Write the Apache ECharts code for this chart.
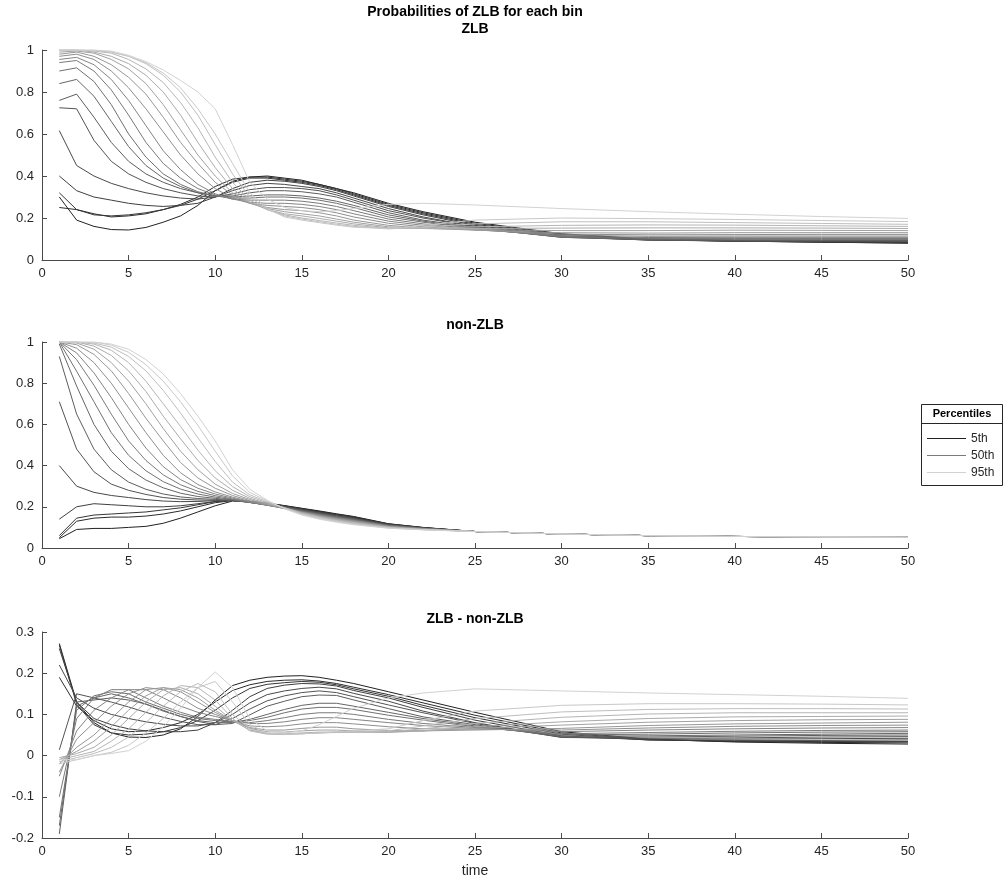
<!DOCTYPE html>
<html>
<head>
<meta charset="utf-8">
<script src="https://cdn.jsdelivr.net/npm/echarts@6/dist/echarts.min.js"></script>
<style>
  html, body { margin: 0; padding: 0; background: #fff; }
  #main { width: 1005px; height: 886px; }
</style>
</head>
<body>
<div id="main"></div>
<script>
"use strict";
// time points (denser where the curves bend)
const timePoints = [1,2,3,4,5,6,7,8,9,10,11,12,13,14,15,16,17,18,20,22,25,30,35,40,45,50];
const percentiles = ['5th','10th','15th','20th','25th','30th','35th','40th','45th','50th',
  '55th','60th','65th','70th','75th','80th','85th','90th','95th'];

// ZLB panel, one row per percentile bin
const zlbProb = [
  [0.30,0.19,0.16,0.145,0.143,0.155,0.18,0.21,0.26,0.33,0.375,0.395,0.40,0.39,0.38,0.36,0.34,0.32,0.27,0.23,0.18,0.125,0.10,0.09,0.085,0.08],
  [0.25,0.24,0.22,0.205,0.21,0.22,0.24,0.265,0.30,0.35,0.385,0.395,0.395,0.385,0.375,0.36,0.34,0.315,0.265,0.225,0.175,0.122,0.098,0.09,0.085,0.081],
  [0.32,0.24,0.215,0.21,0.215,0.225,0.24,0.26,0.29,0.33,0.37,0.39,0.39,0.38,0.37,0.355,0.335,0.31,0.26,0.22,0.17,0.118,0.097,0.09,0.086,0.083],
  [0.40,0.33,0.30,0.285,0.27,0.26,0.255,0.26,0.27,0.30,0.34,0.37,0.38,0.375,0.365,0.35,0.33,0.305,0.255,0.215,0.165,0.115,0.096,0.09,0.087,0.085],
  [0.616,0.45,0.40,0.365,0.34,0.32,0.305,0.295,0.29,0.30,0.33,0.355,0.365,0.36,0.35,0.34,0.32,0.295,0.245,0.205,0.16,0.112,0.095,0.09,0.088,0.087],
  [0.725,0.72,0.57,0.47,0.41,0.37,0.34,0.32,0.305,0.30,0.315,0.335,0.345,0.345,0.34,0.33,0.31,0.285,0.235,0.2,0.158,0.11,0.095,0.091,0.09,0.09],
  [0.76,0.79,0.68,0.56,0.47,0.41,0.37,0.34,0.32,0.305,0.305,0.32,0.33,0.33,0.325,0.315,0.30,0.275,0.225,0.19,0.155,0.108,0.096,0.093,0.093,0.093],
  [0.84,0.86,0.78,0.66,0.54,0.45,0.39,0.35,0.32,0.305,0.30,0.305,0.31,0.31,0.305,0.295,0.28,0.26,0.215,0.185,0.152,0.108,0.098,0.097,0.097,0.097],
  [0.90,0.915,0.85,0.74,0.60,0.49,0.41,0.36,0.325,0.305,0.295,0.295,0.30,0.30,0.295,0.285,0.27,0.25,0.205,0.18,0.15,0.11,0.102,0.102,0.102,0.102],
  [0.94,0.95,0.90,0.81,0.69,0.56,0.46,0.39,0.34,0.31,0.29,0.285,0.285,0.285,0.28,0.27,0.255,0.235,0.195,0.172,0.148,0.112,0.107,0.108,0.108,0.108],
  [0.955,0.965,0.93,0.86,0.76,0.64,0.52,0.43,0.36,0.315,0.29,0.275,0.27,0.27,0.265,0.255,0.24,0.22,0.185,0.165,0.145,0.117,0.113,0.114,0.114,0.114],
  [0.97,0.98,0.955,0.90,0.82,0.72,0.61,0.50,0.41,0.34,0.295,0.27,0.26,0.255,0.25,0.24,0.225,0.205,0.175,0.158,0.143,0.123,0.12,0.121,0.122,0.122],
  [0.98,0.99,0.97,0.93,0.87,0.79,0.68,0.56,0.46,0.37,0.31,0.27,0.25,0.24,0.235,0.225,0.21,0.19,0.165,0.152,0.142,0.13,0.128,0.13,0.13,0.13],
  [0.99,0.995,0.985,0.955,0.91,0.84,0.74,0.62,0.50,0.40,0.32,0.27,0.245,0.23,0.22,0.21,0.195,0.18,0.158,0.15,0.145,0.14,0.14,0.142,0.141,0.14],
  [1,1,0.99,0.97,0.935,0.88,0.80,0.69,0.56,0.44,0.34,0.275,0.24,0.22,0.21,0.198,0.185,0.172,0.153,0.15,0.15,0.152,0.153,0.153,0.152,0.15],
  [1,1,0.995,0.985,0.955,0.91,0.845,0.75,0.63,0.49,0.37,0.285,0.24,0.215,0.2,0.188,0.176,0.165,0.15,0.152,0.158,0.165,0.167,0.166,0.163,0.16],
  [1,1,1,0.99,0.97,0.935,0.88,0.80,0.69,0.55,0.41,0.30,0.24,0.21,0.195,0.182,0.17,0.16,0.148,0.157,0.172,0.182,0.182,0.178,0.174,0.17],
  [1,1,0.998,0.99,0.97,0.94,0.89,0.82,0.72,0.60,0.46,0.32,0.245,0.205,0.19,0.178,0.166,0.156,0.15,0.165,0.19,0.2,0.197,0.193,0.188,0.183],
  [1,1,1,0.995,0.975,0.945,0.905,0.855,0.80,0.72,0.55,0.37,0.29,0.25,0.235,0.23,0.235,0.245,0.265,0.27,0.262,0.245,0.23,0.218,0.207,0.198]
];

// non-ZLB panel
const nonZlbProb = [
  [0.045,0.09,0.095,0.095,0.10,0.105,0.12,0.145,0.175,0.205,0.228,0.226,0.218,0.206,0.193,0.18,0.166,0.153,0.118,0.1,0.08,0.068,0.06,0.056,0.054,0.052],
  [0.05,0.13,0.145,0.15,0.15,0.155,0.165,0.18,0.2,0.22,0.23,0.226,0.217,0.205,0.191,0.178,0.164,0.151,0.117,0.099,0.08,0.068,0.06,0.056,0.054,0.052],
  [0.06,0.145,0.16,0.165,0.17,0.175,0.185,0.195,0.21,0.225,0.232,0.226,0.216,0.204,0.19,0.176,0.162,0.149,0.116,0.099,0.08,0.068,0.06,0.056,0.054,0.052],
  [0.14,0.2,0.215,0.21,0.205,0.2,0.2,0.205,0.215,0.226,0.232,0.225,0.215,0.203,0.188,0.174,0.16,0.147,0.115,0.098,0.08,0.068,0.06,0.056,0.054,0.052],
  [0.40,0.30,0.27,0.255,0.245,0.235,0.228,0.225,0.226,0.23,0.231,0.224,0.214,0.202,0.186,0.171,0.157,0.144,0.113,0.097,0.08,0.068,0.06,0.056,0.054,0.052],
  [0.71,0.48,0.37,0.31,0.28,0.26,0.245,0.237,0.233,0.232,0.23,0.222,0.212,0.2,0.184,0.169,0.155,0.142,0.112,0.096,0.08,0.068,0.06,0.056,0.054,0.052],
  [0.93,0.65,0.48,0.38,0.32,0.285,0.262,0.248,0.24,0.236,0.231,0.221,0.21,0.198,0.182,0.167,0.153,0.14,0.111,0.096,0.08,0.068,0.06,0.056,0.054,0.052],
  [0.99,0.786,0.60,0.47,0.385,0.33,0.292,0.266,0.25,0.241,0.233,0.221,0.209,0.196,0.18,0.165,0.151,0.138,0.11,0.095,0.08,0.068,0.06,0.056,0.054,0.052],
  [1,0.858,0.71,0.56,0.45,0.375,0.322,0.286,0.262,0.247,0.235,0.221,0.208,0.194,0.178,0.163,0.149,0.136,0.109,0.095,0.08,0.068,0.06,0.056,0.054,0.052],
  [1,0.914,0.79,0.65,0.52,0.425,0.355,0.307,0.275,0.254,0.238,0.222,0.207,0.193,0.177,0.161,0.147,0.134,0.107,0.094,0.08,0.068,0.06,0.056,0.054,0.052],
  [1,0.947,0.85,0.73,0.60,0.485,0.395,0.332,0.29,0.262,0.242,0.224,0.208,0.192,0.175,0.159,0.145,0.133,0.106,0.093,0.08,0.068,0.06,0.056,0.054,0.052],
  [1,0.97,0.90,0.80,0.68,0.56,0.45,0.365,0.308,0.272,0.247,0.226,0.209,0.192,0.174,0.158,0.143,0.131,0.105,0.093,0.08,0.068,0.06,0.056,0.054,0.052],
  [1,0.987,0.94,0.86,0.75,0.63,0.52,0.415,0.34,0.29,0.255,0.23,0.211,0.193,0.173,0.156,0.141,0.129,0.104,0.092,0.08,0.068,0.06,0.056,0.054,0.052],
  [1,0.995,0.965,0.90,0.81,0.70,0.58,0.47,0.38,0.31,0.265,0.235,0.213,0.194,0.172,0.154,0.139,0.127,0.103,0.091,0.08,0.068,0.06,0.056,0.054,0.052],
  [1,1,0.98,0.935,0.86,0.76,0.64,0.53,0.425,0.34,0.28,0.241,0.216,0.195,0.17,0.152,0.137,0.124,0.101,0.091,0.08,0.068,0.06,0.056,0.054,0.052],
  [1,1,0.99,0.96,0.90,0.81,0.70,0.59,0.475,0.375,0.298,0.249,0.22,0.196,0.168,0.15,0.134,0.121,0.1,0.09,0.08,0.068,0.06,0.056,0.054,0.052],
  [1,1,0.995,0.975,0.93,0.86,0.765,0.655,0.535,0.42,0.32,0.258,0.224,0.195,0.166,0.147,0.131,0.118,0.099,0.089,0.08,0.068,0.06,0.056,0.054,0.052],
  [1,1,1,0.985,0.95,0.89,0.81,0.71,0.595,0.47,0.35,0.27,0.228,0.193,0.163,0.143,0.128,0.116,0.097,0.089,0.08,0.068,0.06,0.056,0.054,0.052],
  [1,1,1,0.99,0.965,0.915,0.845,0.75,0.64,0.52,0.38,0.285,0.232,0.19,0.16,0.14,0.125,0.113,0.096,0.088,0.08,0.068,0.06,0.056,0.054,0.052]
];

// ZLB - non-ZLB panel
const zlbDiff = [
  [0.272,0.13,0.08,0.055,0.045,0.044,0.05,0.065,0.095,0.135,0.17,0.183,0.19,0.193,0.194,0.19,0.183,0.175,0.155,0.135,0.105,0.058,0.04,0.033,0.03,0.028],
  [0.19,0.12,0.085,0.065,0.058,0.06,0.068,0.08,0.1,0.13,0.158,0.172,0.18,0.183,0.184,0.181,0.175,0.166,0.148,0.128,0.098,0.055,0.039,0.034,0.032,0.031],
  [0.268,0.125,0.075,0.055,0.05,0.052,0.058,0.068,0.085,0.11,0.14,0.163,0.173,0.177,0.18,0.178,0.172,0.162,0.144,0.122,0.092,0.052,0.038,0.035,0.034,0.034],
  [0.26,0.13,0.09,0.075,0.065,0.06,0.058,0.058,0.062,0.08,0.11,0.143,0.163,0.171,0.175,0.174,0.169,0.158,0.14,0.117,0.086,0.048,0.038,0.037,0.037,0.038],
  [0.22,0.14,0.115,0.1,0.09,0.082,0.076,0.072,0.072,0.08,0.1,0.128,0.148,0.157,0.163,0.166,0.162,0.151,0.132,0.108,0.08,0.045,0.04,0.04,0.041,0.042],
  [0.014,0.15,0.14,0.13,0.118,0.105,0.093,0.083,0.075,0.075,0.09,0.113,0.133,0.145,0.153,0.157,0.153,0.143,0.123,0.104,0.078,0.044,0.042,0.043,0.045,0.046],
  [-0.19,0.13,0.135,0.14,0.135,0.125,0.11,0.095,0.083,0.075,0.078,0.099,0.12,0.132,0.143,0.147,0.146,0.135,0.114,0.094,0.075,0.045,0.045,0.047,0.049,0.05],
  [-0.17,0.12,0.14,0.15,0.14,0.125,0.108,0.095,0.085,0.08,0.08,0.088,0.1,0.112,0.122,0.127,0.127,0.12,0.105,0.09,0.072,0.047,0.048,0.05,0.052,0.054],
  [-0.15,0.11,0.145,0.155,0.15,0.13,0.115,0.1,0.09,0.085,0.082,0.085,0.093,0.104,0.113,0.117,0.117,0.112,0.098,0.086,0.07,0.05,0.052,0.055,0.057,0.058],
  [-0.10,0.09,0.14,0.16,0.16,0.14,0.12,0.105,0.093,0.088,0.082,0.08,0.085,0.092,0.1,0.104,0.104,0.1,0.088,0.078,0.068,0.053,0.056,0.059,0.061,0.062],
  [-0.05,0.06,0.11,0.14,0.16,0.16,0.14,0.12,0.105,0.095,0.085,0.078,0.078,0.082,0.088,0.092,0.092,0.088,0.08,0.073,0.066,0.058,0.062,0.065,0.067,0.068],
  [-0.04,0.04,0.08,0.12,0.15,0.165,0.16,0.14,0.115,0.1,0.085,0.072,0.07,0.072,0.077,0.08,0.08,0.077,0.07,0.065,0.064,0.062,0.067,0.071,0.073,0.074],
  [-0.02,0.02,0.05,0.09,0.13,0.16,0.165,0.155,0.13,0.105,0.085,0.068,0.062,0.062,0.066,0.069,0.069,0.065,0.061,0.06,0.062,0.066,0.073,0.077,0.079,0.081],
  [-0.01,0.01,0.035,0.07,0.11,0.145,0.165,0.16,0.14,0.11,0.085,0.066,0.058,0.057,0.06,0.062,0.062,0.06,0.058,0.06,0.066,0.074,0.081,0.085,0.087,0.088],
  [-0.005,0.005,0.02,0.05,0.09,0.13,0.16,0.165,0.15,0.12,0.085,0.062,0.054,0.053,0.055,0.057,0.057,0.057,0.056,0.06,0.07,0.082,0.09,0.094,0.095,0.096],
  [-0.01,0,0.01,0.035,0.065,0.105,0.145,0.17,0.165,0.135,0.09,0.06,0.052,0.051,0.053,0.055,0.056,0.057,0.058,0.065,0.078,0.093,0.101,0.104,0.104,0.104],
  [-0.015,-0.005,0.005,0.02,0.045,0.08,0.12,0.155,0.175,0.155,0.1,0.065,0.054,0.052,0.053,0.055,0.057,0.058,0.06,0.072,0.09,0.106,0.112,0.114,0.114,0.113],
  [-0.02,-0.01,0,0.008,0.025,0.055,0.09,0.13,0.165,0.18,0.13,0.075,0.055,0.052,0.053,0.055,0.058,0.06,0.065,0.085,0.108,0.122,0.126,0.126,0.125,0.123],
  [-0.01,-0.01,0,0.005,0.012,0.035,0.07,0.115,0.165,0.203,0.165,0.09,0.06,0.055,0.06,0.075,0.095,0.115,0.14,0.152,0.162,0.157,0.152,0.148,0.144,0.139]
];

const panelTitles = ['non-ZLB', 'ZLB - non-ZLB'];
const legendShown = ['5th', '50th', '95th'];

const FONT = "'Liberation Sans', Arial, Helvetica, sans-serif";
const INK = '#262626';
const AXIS = '#4a4a4a';

let myChart = echarts.init(document.getElementById('main'), null, {renderer: 'canvas'});

function grayOf(k) {
    let g = Math.round(34 + k * (210 - 34) / 18);
    return 'rgb(' + g + ',' + g + ',' + g + ')';
}

const grids = [
    {left: 42, top: 50, width: 866, height: 210},
    {left: 42, top: 342, width: 866, height: 206},
    {left: 42, top: 632, width: 866, height: 206}
];
const yRanges = [[0, 1, 0.2], [0, 1, 0.2], [-0.2, 0.3, 0.1]];

function makeX(i) {
    return {
        type: 'value', gridIndex: i, min: 0, max: 50, interval: 5,
        name: i === 2 ? 'time' : '', nameLocation: 'middle', nameGap: 26,
        nameTextStyle: {fontFamily: FONT, fontSize: 14, color: INK},
        axisLine: {onZero: false, lineStyle: {color: AXIS, width: 1}},
        axisTick: {inside: true, length: 5, lineStyle: {color: AXIS}},
        axisLabel: {fontFamily: FONT, fontSize: 13, color: INK, margin: 7},
        splitLine: {show: false}
    };
}
function makeY(i) {
    return {
        type: 'value', gridIndex: i, min: yRanges[i][0], max: yRanges[i][1], interval: yRanges[i][2],
        axisLine: {show: true, onZero: false, lineStyle: {color: AXIS, width: 1}},
        axisTick: {show: true, inside: true, length: 5, lineStyle: {color: AXIS}},
        axisLabel: {fontFamily: FONT, fontSize: 13, color: INK, margin: 8},
        splitLine: {show: false}
    };
}

let series = [];
[zlbProb, nonZlbProb, zlbDiff].forEach(function (rows, p) {
    rows.forEach(function (row, k) {
        series.push({
            name: percentiles[k],
            type: 'line',
            xAxisIndex: p, yAxisIndex: p,
            data: timePoints.map(function (t, i) { return [t, row[i]]; }),
            symbol: 'none',
            lineStyle: {width: 1, color: grayOf(k)},
            itemStyle: {color: grayOf(k)},
            emphasis: {disabled: true},
            silent: true
        });
    });
});

function titleText(txt, y) {
    return {
        type: 'text', x: 475, y: y,
        style: {text: txt, fill: '#000', font: 'bold 14px ' + FONT, align: 'center', verticalAlign: 'middle'}
    };
}

let option = {
    animation: false,
    backgroundColor: '#fff',
    grid: grids,
    xAxis: [0, 1, 2].map(makeX),
    yAxis: [0, 1, 2].map(makeY),
    legend: {
        data: legendShown, orient: 'vertical', left: 927, top: 432.5,
        icon: 'rect', itemWidth: 39, itemHeight: 1, itemGap: 5, padding: 0,
        selectedMode: false,
        textStyle: {fontFamily: FONT, fontSize: 12, color: INK, lineHeight: 12}
    },
    graphic: [
        titleText('Probabilities of ZLB for each bin', 12),
        titleText('ZLB', 29),
        titleText(panelTitles[0], 325),
        titleText(panelTitles[1], 619),
        {type: 'rect', shape: {x: 921.5, y: 404.5, width: 81, height: 81}, style: {fill: '#fff', stroke: INK, lineWidth: 1}, z: -1},
        {type: 'line', shape: {x1: 921.5, y1: 423.5, x2: 1002.5, y2: 423.5}, style: {stroke: INK, lineWidth: 1}},
        {type: 'text', x: 962, y: 414, style: {text: 'Percentiles', fill: '#000', font: 'bold 11px ' + FONT, align: 'center', verticalAlign: 'middle'}}
    ],
    series: series
};
myChart.setOption(option);
</script>
</body>
</html>
